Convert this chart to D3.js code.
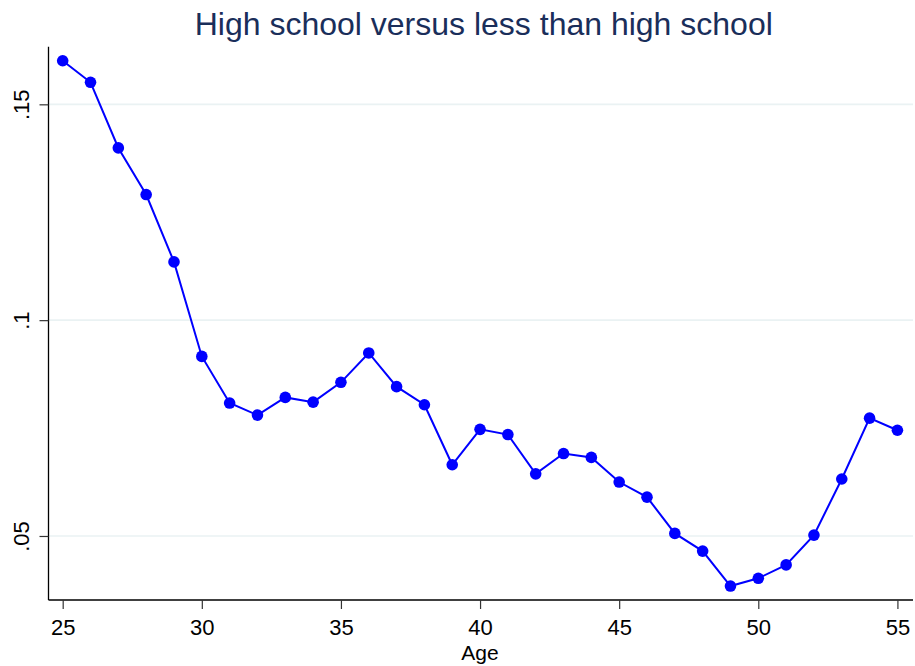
<!DOCTYPE html>
<html><head><meta charset="utf-8">
<script src="https://cdn.jsdelivr.net/npm/d3@7"></script>
<style>body{margin:0;background:#fff}svg{display:block}</style>
</head><body>
<svg id="c" width="915" height="666"></svg>
<script>
const ages = [25,26,27,28,29,30,31,32,33,34,35,36,37,38,39,40,41,42,43,44,45,46,47,48,49,50,51,52,53,54,55];
const values = [0.1601,0.1551,0.1399,0.1291,0.1135,0.0916,0.0808,0.0780,0.0821,0.0810,0.0856,0.0924,0.0846,0.0804,0.0665,0.0747,0.0735,0.0644,0.0691,0.0682,0.0625,0.0590,0.0506,0.0465,0.0384,0.0402,0.0433,0.0502,0.0632,0.0773,0.0745];
const xTicks = [25,30,35,40,45,50,55];
const yTicks = [0.05,0.1,0.15];
const yTickLabels = [".05",".1",".15"];
const title = "High school versus less than high school";
const xTitle = "Age";

const svg = d3.select("#c");
const L = 48.5, R = 913, T = 46.7, B = 600;
const x = d3.scaleLinear().domain([24.49, 55.56]).range([L, R]);
const y = d3.scaleLinear().domain([0.03517, 0.16335]).range([B, T]);
const font = "'Liberation Sans', Arial, sans-serif";

// gridlines
svg.append("g").selectAll("line").data(yTicks).join("line")
  .attr("x1", L).attr("x2", R).attr("y1", d => y(d)).attr("y2", d => y(d))
  .attr("stroke", "#eaf2f3").attr("stroke-width", 1.6);

// x axis
const xa = svg.append("g").attr("transform", `translate(0,${B})`)
  .call(d3.axisBottom(x).tickValues(xTicks).tickSize(9).tickPadding(10).tickFormat(d3.format("d")));
xa.select(".domain").attr("stroke", "#000").attr("stroke-width", 1.3).attr("d", `M${L},0H${R}`);
xa.selectAll(".tick line").attr("stroke", "#333").attr("stroke-width", 1.2);
xa.selectAll(".tick text").attr("font-family", font).attr("font-size", 22).attr("fill", "#000");

// y axis
const ya = svg.append("g").attr("transform", `translate(${L},0)`)
  .call(d3.axisLeft(y).tickValues(yTicks).tickSize(9).tickPadding(0).tickFormat((d,i) => yTickLabels[i]));
ya.select(".domain").attr("stroke", "#000").attr("stroke-width", 1.3).attr("d", `M0,${B}V${T}`);
ya.selectAll(".tick line").attr("stroke", "#333").attr("stroke-width", 1.2);
ya.selectAll(".tick text").attr("font-family", font).attr("font-size", 22).attr("fill", "#000")
  .attr("transform", "rotate(-90)").attr("x", 0).attr("y", -27).attr("dy", "0.35em")
  .attr("text-anchor", "middle");

// line
const data = ages.map((a, i) => [a, values[i]]);
svg.append("path").datum(data)
  .attr("fill", "none").attr("stroke", "#0000ff").attr("stroke-width", 2)
  .attr("d", d3.line().x(d => x(d[0])).y(d => y(d[1])));
svg.append("g").selectAll("circle").data(data).join("circle")
  .attr("cx", d => x(d[0])).attr("cy", d => y(d[1])).attr("r", 5.8).attr("fill", "#0000ff");

// titles
svg.append("text").attr("x", (L + R) / 2 + 3).attr("y", 35).attr("text-anchor", "middle")
  .attr("font-family", font).attr("font-size", 32).attr("fill", "#1a2e5a").text(title);
svg.append("text").attr("x", x(40)).attr("y", 660).attr("text-anchor", "middle")
  .attr("font-family", font).attr("font-size", 21).attr("fill", "#000").text(xTitle);
</script>
</body></html>
